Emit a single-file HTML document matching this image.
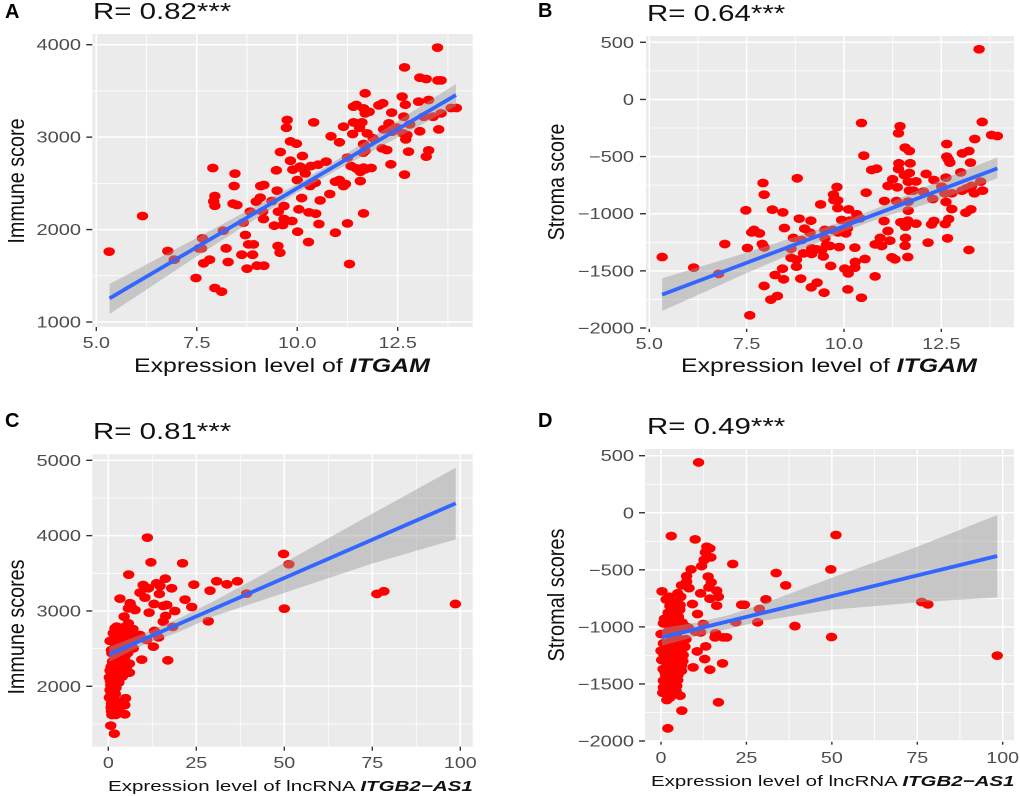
<!DOCTYPE html>
<html lang="en">
<head>
<meta charset="utf-8">
<title>Correlation scatter plots</title>
<style>
html,body{margin:0;padding:0;background:#fff;}
svg{display:block;font-family:"Liberation Sans",sans-serif;}
</style>
</head>
<body>
<svg id="fig" xmlns="http://www.w3.org/2000/svg" width="1020" height="796" viewBox="0 0 1020 796">
  <g id="panel-a"></g>
  <g id="panel-b"></g>
  <g id="panel-c"></g>
  <g id="panel-d"></g>

  <text x="5" y="18" font-size="20" font-weight="bold">A</text>
  <text x="538" y="17" font-size="20" font-weight="bold">B</text>
  <text x="5" y="427" font-size="20" font-weight="bold">C</text>
  <text x="538" y="427" font-size="20" font-weight="bold">D</text>

  <text transform="translate(93,19) scale(1.28,1)" font-size="23" fill="#111">R= 0.82***</text>
  <text transform="translate(647,21) scale(1.28,1)" font-size="23" fill="#111">R= 0.64***</text>
  <text transform="translate(93,439) scale(1.28,1)" font-size="23" fill="#111">R= 0.81***</text>
  <text transform="translate(647,434) scale(1.28,1)" font-size="23" fill="#111">R= 0.49***</text>

  <text transform="translate(24,181) rotate(-90) scale(0.86,1)" text-anchor="middle" font-size="23" fill="#111">Immune score</text>
  <text transform="translate(564,182) rotate(-90) scale(0.855,1)" text-anchor="middle" font-size="23" fill="#111">Stroma score</text>
  <text transform="translate(24,627) rotate(-90) scale(0.86,1)" text-anchor="middle" font-size="23" fill="#111">Immune scores</text>
  <text transform="translate(564,595) rotate(-90) scale(0.867,1)" text-anchor="middle" font-size="23" fill="#111">Stromal scores</text>

  <text transform="translate(134,372) scale(1.31,1)" font-size="19" fill="#111">Expression level of <tspan font-weight="bold" font-style="italic">ITGAM</tspan></text>
  <text transform="translate(681,372) scale(1.31,1)" font-size="19" fill="#111">Expression level of <tspan font-weight="bold" font-style="italic">ITGAM</tspan></text>
  <text transform="translate(108,791) scale(1.37,1)" font-size="15" fill="#111">Expression level of lncRNA <tspan font-weight="bold" font-style="italic">ITGB2−AS1</tspan></text>
  <text transform="translate(651,786) scale(1.365,1)" font-size="15" fill="#111">Expression level of lncRNA <tspan font-weight="bold" font-style="italic">ITGB2−AS1</tspan></text>
</svg>

<script>
// ---------- Panel A data ----------
const aX = [5.32,6.15,6.78,6.94,7.48,7.56,7.62,7.64,7.67,7.82,7.90,7.95,7.92,7.95,7.95,8.12,8.16,8.23,8.28,8.40,8.50,8.43,8.45,8.62,8.66,8.71,8.75,8.79,8.91,8.89,8.83,9.0,9.17,8.98,9.08,9.09,9.17,9.16,9.14,9.37,9.50,9.48,9.58,9.43,9.52,9.57,9.53,9.67,9.64,9.67,9.87,9.73,9.75,9.83,9.98,9.83,9.89,10.13,10.07,10.0,10.2,10.12,10.34,10.52,10.72,10.45,10.32,10.11,10.57,10.81,10.04,10.29,10.46,10.01,10.54,10.28,10.41,10.84,11.05,11.15,11.38,11.40,11.47,11.40,11.61,11.55,11.25,11.34,10.95,11.05,11.2,11.15,11.25,10.95,11.30,11.65,11.57,11.47,11.57,11.65,11.84,11.69,11.69,11.65,11.69,11.79,12.03,12.13,11.74,11.89,11.65,11.69,11.64,12.11,12.23,12.33,12.15,12.28,12.36,12.35,12.48,12.61,12.67,12.69,12.65,12.80,12.63,12.73,12.70,12.77,12.67,13.05,13.21,13.02,13.05,13.27,13.15,13.38,13.27,13.21,13.52,13.58,13.49,13.50,13.58,13.83,13.96];
const aY = [1761,2147,1768,1674,1476,1797,1797,1905,1635,1674,2666,2363,2305,2258,1368,1328,1988,1797,1649,2280,2266,2471,2605,1728,2075,1941,1577,1840,1840,1728,2194,1609,1609,2302,2345,2471,2482,2114,2194,2309,2421,2641,2839,2042,1822,1750,2194,2255,2049,2114,2093,3102,3185,2954,2929,2745,2648,2796,2680,2536,2608,2662,2687,2702,2735,2507,2471,2341,2316,2385,2219,2186,2172,1977,2060,1865,3160,3009,2944,3113,3034,3330,3348,3160,3160,3102,2778,2687,2518,2536,2493,2471,2067,1966,1627,2175,2525,2662,2626,2670,2666,2652,3474,3311,3257,3275,3344,3366,3041,2987,2926,2853,2832,2879,2861,2706,3084,3149,3059,3265,3102,3438,3755,3351,3221,3138,3041,3023,2976,2843,2594,3643,3629,3384,3063,3402,3221,3221,2857,2789,3084,3257,3968,3614,3614,3315,3315];
const aFitX = [5.33,13.95];
const aFitY = [1256,3456];
const aBandX = [5.33,7.5,9.9,11,12.5,13.95];
const aBandHi = [1411,1910,2470,2758,3176,3575];
const aBandLo = [1087,1710,2374,2648,2996,3337];
const aXMajor = [5,7.5,10,12.5];
const aXLabels = ['5.0','7.5','10.0','12.5'];
const aXMinor = [6.25,8.75,11.25,13.75];
const aYMajor = [1000,2000,3000,4000];
const aYLabels = ['1000','2000','3000','4000'];
const aYMinor = [1500,2500,3500];

// ---------- Panel B data ----------
const bX = [5.33,6.14,6.78,6.94,7.48,7.52,7.58,7.63,7.69,7.83,7.90,7.95,7.92,7.95,7.95,8.12,8.29,8.16,8.43,8.47,8.42,8.23,8.45,8.64,8.70,8.91,8.80,8.85,8.99,9.15,9.13,8.64,8.78,8.78,8.89,8.96,9.17,9.17,9.30,9.43,9.47,9.16,9.31,9.49,9.66,9.40,9.73,9.82,9.74,9.84,9.84,9.51,9.51,9.55,9.64,9.88,9.85,9.71,9.94,10.05,10.09,10.12,10.33,10.41,10.15,10.28,10.02,10.11,10.28,10.29,10.10,10.45,10.54,10.80,10.45,10.51,10.71,10.84,10.57,11.04,11.03,11.13,11.18,10.93,10.80,10.97,11.23,11.31,11.13,11.25,11.37,11.35,11.44,11.40,11.57,11.68,11.41,11.40,11.70,11.55,11.68,11.65,11.85,11.68,11.78,12.04,11.65,11.65,11.46,11.64,11.58,11.85,11.58,11.57,11.64,12.11,12.31,12.16,12.25,12.31,12.28,12.51,12.59,12.62,12.64,12.64,12.68,12.72,12.62,12.77,12.77,12.69,12.60,12.66,13.0,13.04,13.21,13.25,13.03,13.15,13.36,13.55,13.47,13.28,13.35,13.56,13.51,13.13,13.26,13.21,13.79,13.94];
const bY = [-1379,-1472,-1527,-1265,-970,-1300,-1889,-1163,-1142,-1172,-1265,-1294,-731,-833,-1632,-1752,-1720,-964,-988,-1125,-1481,-1536,-1574,-1306,-1212,-1230,-690,-1043,-1131,-1061,-1166,-1385,-1402,-1463,-1568,-1347,-1352,-1303,-1312,-1317,-1373,-1644,-1603,-1691,-1457,-918,-833,-766,-880,-883,-950,-1142,-1215,-1274,-1282,-1291,-1163,-1142,-1055,-1172,-1128,-962,-1005,-1040,-1061,-1297,-1481,-1522,-1472,-1422,-1662,-1735,-1396,-1548,-206,-492,-617,-606,-816,-889,-1064,-1151,-1236,-1212,-1268,-1282,-1382,-1399,-757,-699,-769,-889,-235,-296,-422,-451,-559,-609,-559,-661,-644,-719,-717,-798,-798,-807,-894,-973,-1075,-1061,-1113,-1087,-1212,-1280,-1379,-652,-705,-1253,-1093,-1064,-871,-763,-821,-684,-390,-501,-524,-553,-897,-821,-959,-1046,-1090,-1215,-638,-472,-451,-553,-798,-778,-346,-197,439,-757,-821,-798,-719,-991,-962,-1317,-311,-320];
const bFitX = [5.33,13.94];
const bFitY = [-1708,-603];
const bBandX = [5.33,7.5,10,11,12.5,13.94];
const bBandHi = [-1565,-1340,-1064,-931,-703,-507];
const bBandLo = [-1851,-1520,-1154,-1031,-873,-690];
const bXMajor = [5,7.5,10,12.5];
const bXLabels = ['5.0','7.5','10.0','12.5'];
const bXMinor = [6.25,8.75,11.25,13.75];
const bYMajor = [-2000,-1500,-1000,-500,0,500];
const bYLabels = ['−2000','−1500','−1000','−500','0','500'];
const bYMinor = [-1750,-1250,-750,-250,250];

// ---------- Panel C data ----------
const cX = [11.1,12.1,5.8,21.1,16.2,49.8,51.3,30.8,36.7,33.7,24.3,28.9,18.0,39.3,21.8,23.7,18.9,50.0,28.4,76.3,78.3,98.6,16.9,9.5,12.8,14.3,18.3,15.6,16.3,13.1,10.9,11.6,16.6,13.0,15.6,9.9,9.0,10.4,13.7,14.7,14.5,11.4,3.3,6.2,6.6,7.6,5.7,4.5,5.7,6.6,9.0,8.0,7.1,1.9,0.5,1.4,2.8,4.3,5.2,1.9,3.3,4.7,6.2,2.4,3.8,5.7,1.9,3.3,4.7,1.4,2.8,5.2,6.0,0.5,1.9,3.3,0.3,1.9,2.8,0.9,1.9,0.5,1.4,0.3,1.4,4.9,0.9,2.4,4.7,0.9,2.1,4.7,0.7,1.7,0.9,2.4,3.8,7.1,2.6,4.3,1.4,0.7,1.6,2.4,5.4,3.0,4.0,1.2,2.2,3.5,5.0,6.5,1.0,2.6,3.9,1.5,0.8,4.0,5.5,7.0,8.2,3.0,4.5,6.0,7.5,2.0,3.5,5.0,6.5,1.0,2.5,4.0,5.5,1.5,3.0,4.5,6.0,0.8,2.0,3.5,5.0,1.2,2.5,4.0,0.6,1.8,3.0,1.0,2.2,0.8,2.0,1.2,2.6,1.5,3.0,1.0,2.4];
const cY = [3974,3646,3482,3633,3429,3757,3620,3394,3394,3354,3350,3270,3301,3230,3150,3053,3000,3031,2863,3226,3261,3093,2345,2354,2527,2650,2788,2858,2934,2735,2615,2978,3080,3093,3067,3345,3243,3177,3367,3332,3226,3301,3164,3102,3049,3013,3035,2925,2836,2726,2681,2637,2504,2770,2602,2704,2726,2748,2704,2615,2593,2615,2593,2504,2482,2504,2394,2372,2394,2305,2283,2261,2181,2208,2208,2208,2119,2106,2106,2040,2018,1951,1942,1850,1863,1841,1774,1765,1752,1673,1620,1628,1478,1372,2482,2681,2659,2704,2438,2283,2128,2018,1752,2792,2748,2560,2440,2330,2330,2450,2550,2650,2250,2160,2240,1890,1720,2780,2800,2760,2660,2660,2650,2660,2680,2560,2540,2550,2560,2440,2460,2440,2440,2340,2330,2320,2300,2260,2250,2240,2220,2160,2140,2130,2070,2060,2050,1990,1980,1900,1900,1810,1800,1700,1700,1620,1640];
const cFitX = [0.3,98.7];
const cFitY = [2425,4429];
const cBandX = [0.3,10,20,30,50,75,98.7];
const cBandHi = [2525,2700,2900,3130,3640,4290,4903];
const cBandLo = [2325,2550,2720,2930,3240,3630,3951];
const cXMajor = [0,25,50,75,100];
const cXLabels = ['0','25','50','75','100'];
const cXMinor = [12.5,37.5,62.5,87.5];
const cYMajor = [2000,3000,4000,5000];
const cYLabels = ['2000','3000','4000','5000'];
const cYMinor = [1500,2500,3500,4500];

// ---------- Panel D data ----------
const dX = [11.0,3.0,10.0,51.2,13.4,14.3,13.0,14.6,12.6,11.9,21.0,8.8,49.7,33.7,13.8,7.5,7.5,6.0,36.5,14.7,14.0,8.2,0.3,16.3,11.6,4.9,5.8,2.4,16.8,30.7,14.3,76.3,78.1,23.6,24.4,9.2,16.3,5.6,2.6,4.6,28.8,2.1,4.1,10.7,3.1,5.1,0.7,6.2,28.3,21.9,12.4,2.6,39.2,8.0,49.9,0.0,2.1,4.6,10.1,11.6,16.0,15.8,18.2,19.2,7.3,0.7,2.6,5.1,7.0,13.1,10.6,0.0,1.7,5.6,6.5,98.4,12.8,0.2,2.1,4.1,5.8,18.0,9.4,14.3,1.7,3.6,5.6,2.6,6.0,4.1,1.7,0.7,2.6,4.9,2.1,0.7,4.6,2.6,0.5,5.6,1.7,6.1,16.8,2.0,3.2,4.4,1.0,6.0,2.8,3.4,1.2,5.0,1.5,3.5,5.5,7.5,1.0,3.0,5.0,6.8,1.8,3.8,5.8,0.8,2.6,4.6,6.4,1.2,3.2,5.2,0.6,2.2,4.2,1.4,3.4,5.0,2.0,3.8,1.1,3.0,4.4,2.6];
const dY = [441,-204,-233,-195,-298,-312,-347,-391,-414,-467,-449,-496,-496,-528,-560,-555,-604,-636,-636,-610,-654,-660,-689,-683,-706,-706,-736,-736,-736,-759,-753,-782,-803,-806,-806,-800,-814,-809,-817,-838,-844,-876,-867,-887,-911,-911,-969,-963,-960,-960,-975,-998,-993,-1007,-1089,-1063,-1042,-1057,-1042,-1048,-1057,-1092,-1092,-1092,-1109,-1144,-1136,-1144,-1174,-1171,-1215,-1209,-1188,-1209,-1247,-1252,-1282,-1290,-1261,-1276,-1290,-1320,-1355,-1375,-1320,-1334,-1349,-1378,-1384,-1413,-1422,-1471,-1466,-1466,-1509,-1530,-1518,-1547,-1577,-1603,-1641,-1734,-1661,-1889,-1110,-1190,-1240,-1340,-1440,-1490,-1400,-1100,-760,-780,-850,-1000,-930,-960,-1010,-1180,-1060,-1100,-1120,-1240,-1230,-1220,-1300,-1290,-1280,-1340,-1370,-1370,-1340,-1430,-1430,-1420,-1490,-1500,-1560,-1570,-1560,-1620];
const dFitX = [0.3,98.4];
const dFitY = [-1092,-379];
const dBandX = [0.3,10,20,30,50,75,98.4];
const dBandHi = [-1010,-965,-896,-795,-570,-298,-20];
const dBandLo = [-1165,-1085,-1015,-945,-850,-785,-741];
const dXMajor = [0,25,50,75,100];
const dXLabels = ['0','25','50','75','100'];
const dXMinor = [12.5,37.5,62.5,87.5];
const dYMajor = [-2000,-1500,-1000,-500,0,500];
const dYLabels = ['−2000','−1500','−1000','−500','0','500'];
const dYMinor = [-1750,-1250,-750,-250,250];

const NS = 'http://www.w3.org/2000/svg';

function make(parent, tag, attrs) {
  const el = document.createElementNS(NS, tag);
  for (const k in attrs) el.setAttribute(k, attrs[k]);
  parent.appendChild(el);
  return el;
}

function drawPanel(id, frame, xScale, yScale, s) {
  const root = document.getElementById(id);

  const bg = make(root, 'rect', {x: frame.l, y: frame.t, width: frame.r - frame.l, height: frame.b - frame.t, fill: '#EBEBEB'});
  
  

  s.xMinor.forEach(function (v) {
    const g = make(root, 'line', {x1: xScale(v), x2: xScale(v), y1: frame.t, y2: frame.b, stroke: '#fff', 'stroke-width': 0.8});
    
    
  });
  s.yMinor.forEach(function (v) {
    const g = make(root, 'line', {x1: frame.l, x2: frame.r, y1: yScale(v), y2: yScale(v), stroke: '#fff', 'stroke-width': 0.8});
    
    
  });
  s.xMajor.forEach(function (v, i) {
    const x = xScale(v);
    const g = make(root, 'line', {x1: x, x2: x, y1: frame.t, y2: frame.b, stroke: '#fff', 'stroke-width': 1.5});
    
    
    const t = make(root, 'line', {x1: x, x2: x, y1: frame.b, y2: frame.b + 4, stroke: '#333', 'stroke-width': 1.4});
    
    
    const lab = make(root, 'text', {transform: 'translate(' + x + ',' + frame.xLabelY + ') scale(1.28,1)', 'text-anchor': 'middle', 'font-size': 15.4, fill: '#4D4D4D'});
    
    
    lab.textContent = s.xLabels[i];
  });
  s.yMajor.forEach(function (v, i) {
    const y = yScale(v);
    const g = make(root, 'line', {x1: frame.l, x2: frame.r, y1: y, y2: y, stroke: '#fff', 'stroke-width': 1.5});
    
    
    const t = make(root, 'line', {x1: frame.l - 6, x2: frame.l, y1: y, y2: y, stroke: '#333', 'stroke-width': 1.4});
    
    
    const lab = make(root, 'text', {transform: 'translate(' + frame.yLabelX + ',' + (y + 5.5) + ') scale(1.3,1)', 'text-anchor': 'end', 'font-size': 15.4, fill: '#4D4D4D'});
    
    
    lab.textContent = s.yLabels[i];
  });

  s.x.forEach(function (v, i) {
    const p = make(root, 'ellipse', {cx: xScale(v), cy: yScale(s.y[i]), rx: 5.7, ry: 4.4, fill: '#FF0000'});
    
    
  });

  const upper = s.bandX.map(function (v, i) { return xScale(v) + ',' + yScale(s.bandHi[i]); });
  const lower = s.bandX.map(function (v, i) { return xScale(v) + ',' + yScale(s.bandLo[i]); }).reverse();
  const band = make(root, 'polygon', {points: upper.concat(lower).join(' '), fill: '#999999', 'fill-opacity': 0.45});
  
  

  const fit = make(root, 'line', {x1: xScale(s.fitX[0]), y1: yScale(s.fitY[0]), x2: xScale(s.fitX[1]), y2: yScale(s.fitY[1]), stroke: '#3366FF', 'stroke-width': 3.8});
  
  
}

function linear(d0, p0, d1, p1) {
  return function (v) { return p0 + (v - d0) * (p1 - p0) / (d1 - d0); };
}

drawPanel('panel-a',
  {l: 92.3, r: 472.7, t: 34, b: 327, xLabelY: 348, yLabelX: 81},
  linear(5, 96.3, 12.5, 397.7), linear(1000, 322, 4000, 44.7),
  {x: aX, y: aY, fitX: aFitX, fitY: aFitY, bandX: aBandX, bandHi: aBandHi, bandLo: aBandLo, xMajor: aXMajor, xLabels: aXLabels, xMinor: aXMinor, yMajor: aYMajor, yLabels: aYLabels, yMinor: aYMinor});

drawPanel('panel-b',
  {l: 646, r: 1014, t: 36, b: 328, xLabelY: 349, yLabelX: 634},
  linear(5, 649.3, 12.5, 941.3), linear(-2000, 328, 500, 42.3),
  {x: bX, y: bY, fitX: bFitX, fitY: bFitY, bandX: bBandX, bandHi: bBandHi, bandLo: bBandLo, xMajor: bXMajor, xLabels: bXLabels, xMinor: bXMinor, yMajor: bYMajor, yLabels: bYLabels, yMinor: bYMinor});

drawPanel('panel-c',
  {l: 92.3, r: 472.7, t: 454.3, b: 746.7, xLabelY: 768, yLabelX: 81},
  linear(0, 108.3, 100, 460.3), linear(2000, 686.3, 5000, 460.3),
  {x: cX, y: cY, fitX: cFitX, fitY: cFitY, bandX: cBandX, bandHi: cBandHi, bandLo: cBandLo, xMajor: cXMajor, xLabels: cXLabels, xMinor: cXMinor, yMajor: cYMajor, yLabels: cYLabels, yMinor: cYMinor});

drawPanel('panel-d',
  {l: 645, r: 1014, t: 449, b: 740.7, xLabelY: 763, yLabelX: 634},
  linear(0, 661, 100, 1002.7), linear(-2000, 741, 500, 455.7),
  {x: dX, y: dY, fitX: dFitX, fitY: dFitY, bandX: dBandX, bandHi: dBandHi, bandLo: dBandLo, xMajor: dXMajor, xLabels: dXLabels, xMinor: dXMinor, yMajor: dYMajor, yLabels: dYLabels, yMinor: dYMinor});
</script>
</body>
</html>
